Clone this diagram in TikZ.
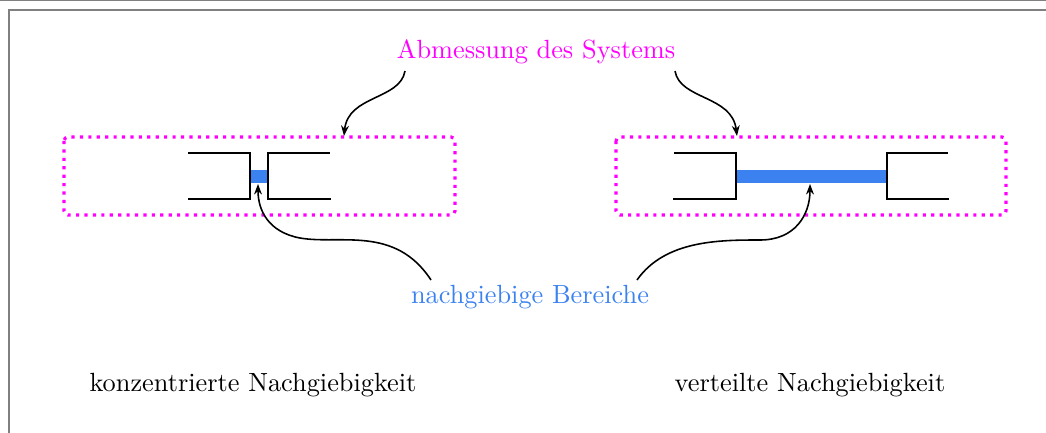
\documentclass[tikz,border=0pt]{standalone}
\usetikzlibrary{arrows.meta}
\definecolor{mag}{RGB}{255,0,255}
\definecolor{flex}{RGB}{59,130,240}
\definecolor{framegray}{RGB}{128,128,128}
\begin{document}
\begin{tikzpicture}[x=0.38pt,y=-0.38pt,
  clamp/.style={black,line width=0.8pt},
  sysbox/.style={mag,very thick,dotted,rounded corners=1.5pt},
  flexbar/.style={fill=flex,draw=none},
  pointer/.style={semithick,-{Stealth[length=4pt,width=3pt]}},
  lbl/.style={inner sep=0pt,font=\normalsize}]
\useasboundingbox (0,0) rectangle (1046,432);
% frame
\draw[framegray,line width=0.5pt] (0,0.5) -- (1046,0.5);
\draw[framegray,line width=0.6pt] (9,440) -- (9,10) -- (1050,10);
% left system
\draw[sysbox] (64,137) rectangle (455,215);
\fill[flexbar] (250,170) rectangle (268,183);
\draw[clamp] (188,153) -- (250,153) -- (250,199) -- (188,199);
\draw[clamp] (330,153) -- (268,153) -- (268,199) -- (331,199);
% right system
\draw[sysbox] (616,137) rectangle (1006,215);
\fill[flexbar] (736,170) rectangle (887,183);
\draw[clamp] (674,153) -- (736,153) -- (736,199) -- (673,199);
\draw[clamp] (948,153) -- (887,153) -- (887,199) -- (949,199);
% labels
\node[lbl,text=mag] (dim) at (536,52) {Abmessung des Systems};
\node[lbl,text=flex] (soft) at (530,297) {nachgiebige Bereiche};
\node[lbl] (conc) at (253,385) {konzentrierte Nachgiebigkeit};
\node[lbl] (dist) at (810,385) {verteilte Nachgiebigkeit};
% pointer targets
\coordinate (dl) at (344,136);
\coordinate (dr) at (737,136);
\coordinate (sl) at (258,184);
\coordinate (sr) at (810,184);
\coordinate (dls) at (405,71);
\coordinate (drs) at (675,71);
\coordinate (sls) at (431,280);
\coordinate (srs) at (637,280);
% pointers
\draw[pointer] (dls) .. controls (400,100) and (348,95) .. (dl);
\draw[pointer] (drs) .. controls (680,100) and (732,95) .. (dr);
\draw[pointer] (sls) .. controls (395,225) and (340,245) .. (300,238) .. controls (268,232) and (258,210) .. (sl);
\draw[pointer] (srs) .. controls (665,240) and (720,240) .. (760,240) .. controls (795,240) and (810,215) .. (sr);
\end{tikzpicture}
\end{document}
